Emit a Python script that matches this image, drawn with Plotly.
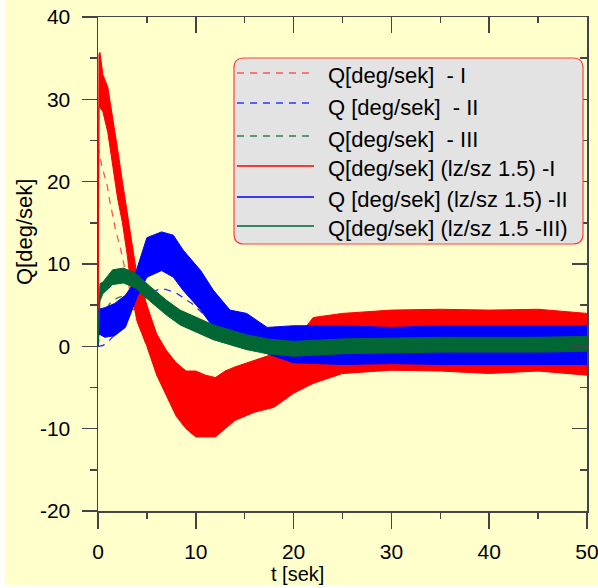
import plotly.graph_objects as go

# ---------------- data ----------------
# dashed (smooth) series
t_dash_I = [0, 0.05, 0.4, 0.9, 1.2, 1.8, 2.3, 3, 4, 5, 6, 7, 8, 9, 10, 11, 12, 14, 16, 18, 20, 25, 30, 40, 50]
q_dash_I = [0, 24, 21.8, 19.8, 17.7, 14.1, 11.9, 8, 3.5, 0, -2.5, -4.5, -6, -6.8, -7, -6.8, -6.2, -4.8, -3.5, -2.4, -1.5, -0.3, 0.2, 0.1, 0]

t_dash_II = [0, 0.5, 1, 2, 3, 3.6, 5, 6.3, 7, 8.1, 9.6, 10.7, 12.3, 14, 16, 18, 20, 25, 50]
q_dash_II = [0, 0.1, 0.5, 1.8, 3.4, 4.4, 6.2, 7.0, 6.9, 6.4, 5.2, 4.0, 2.6, 1.5, 0.7, 0.3, 0.1, 0, 0]

t_dash_III = [0, 0.3, 0.7, 1.2, 2, 3, 4, 5, 6, 7, 8, 10, 12, 14, 16, 18, 20, 25, 50]
q_dash_III = [0, 2.5, 4.2, 5.2, 5.9, 6.3, 6.3, 5.8, 5.0, 4.2, 3.4, 2.2, 1.3, 0.7, 0.3, 0.1, 0, 0, 0]

# noisy series, given as upper / lower envelope of the noise band
t_I = [0, 0.1, 0.2, 0.5, 1, 1.5, 2, 2.5, 3, 3.5, 4, 4.5, 5, 6, 7, 8, 9, 10, 11, 12, 13, 14, 16, 18, 20, 22, 25, 30, 35, 40, 45, 50]
q_I_up = [0, 35.5, 35.7, 33, 31.5, 28, 24, 20, 16, 12.5, 8.5, 7, 5, 1.5, -0.5, -2, -3, -3, -3.5, -3.8, -3, -2.5, -1.7, -0.9, 0.4, 3.5, 4, 4.4, 4.5, 4.4, 4.5, 4]
q_I_lo = [0, 29, 29, 28.5, 26, 22, 18, 15, 11, 6, 3, 1.5, 0, -3.5, -6, -8.5, -10, -11, -11, -11, -10, -9, -8, -7.4, -5.7, -4.5, -3.3, -2.9, -3, -3.3, -3, -3.5]

t_II = [0, 0.1, 0.7, 1.7, 2.8, 3.5, 4, 5, 6.5, 7.7, 8.7, 10.5, 11.8, 13.5, 15.2, 17.3, 20, 25, 30, 35, 40, 45, 50]
q_II_up = [0, 4.5, 4.7, 5.2, 6.2, 7.4, 9.5, 13.2, 13.9, 13.5, 11.7, 9.2, 6.8, 4.4, 4.0, 2.3, 2.5, 2.5, 2.3, 2.5, 2.5, 2.5, 2.5]
q_II_lo = [0, 1.5, 1.1, 1.3, 2.3, 4.4, 6.0, 8.4, 9.2, 8.4, 6.8, 4.4, 2.3, 1.1, -0.1, -0.9, -2.0, -2.2, -2.1, -2.2, -2.2, -2.2, -2.2]

t_III = [0, 0.2, 0.5, 1.5, 2.6, 3.8, 5.3, 7, 8.4, 10.1, 11.8, 13.5, 15.2, 17.3, 20, 25, 30, 35, 40, 45, 50]
q_III_up = [0.5, 7.6, 7.8, 9.3, 9.5, 8.9, 7.3, 5.6, 4.4, 3.5, 2.6, 2.0, 1.4, 0.9, 0.6, 0.9, 1.0, 1.1, 1.1, 1.1, 1.2]
q_III_lo = [0, 5.5, 6.4, 7.5, 7.7, 7.1, 5.5, 3.8, 2.6, 1.7, 0.8, 0.2, -0.4, -0.9, -1.2, -0.9, -0.8, -0.7, -0.7, -0.7, -0.6]

series_labels = [
    "Q[deg/sek]\u00a0\u00a0- I",
    "Q [deg/sek]\u00a0\u00a0- II",
    "Q[deg/sek]\u00a0\u00a0- III",
    "Q[deg/sek] (lz/sz 1.5) -I",
    "Q [deg/sek] (lz/sz 1.5) -II",
    "Q[deg/sek] (lz/sz 1.5 -III)",
]
x_ticks = [0, 10, 20, 30, 40, 50]
y_ticks = [40, 30, 20, 10, 0, -10, -20]

# ---------------- styling ----------------
W, H = 598, 588
L, R, T, B = 98, 587, 17, 511
BG = "#FFFFCC"
FONT = "Liberation Sans, Arial, sans-serif"
AX = "#444444"
RED, BLUE, GREEN = "#FF0000", "#0000FF", "#006633"
RED_D, BLUE_D, GREEN_D = "#FF5555", "#3333FF", "#2E8050"
DASH = "7px,6px"


def px(x):
    return (x - L) / (R - L)


def py(y):
    return (B - y) / (B - T)


fig = go.Figure()

for t, q, c in [(t_dash_I, q_dash_I, RED_D), (t_dash_II, q_dash_II, BLUE_D), (t_dash_III, q_dash_III, GREEN_D)]:
    fig.add_trace(go.Scatter(x=t, y=q, mode="lines", line=dict(color=c, width=1.3, dash=DASH),
                             showlegend=False, hoverinfo="skip"))

for t, up, lo, c in [(t_I, q_I_up, q_I_lo, RED), (t_II, q_II_up, q_II_lo, BLUE), (t_III, q_III_up, q_III_lo, GREEN)]:
    fig.add_trace(go.Scatter(x=t, y=lo, mode="lines", line=dict(color=c, width=1),
                             showlegend=False, hoverinfo="skip"))
    fig.add_trace(go.Scatter(x=t, y=up, mode="lines", line=dict(color=c, width=1),
                             fill="tonexty", fillcolor=c, showlegend=False, hoverinfo="skip"))

# empty trace to host the mirrored top/right axes
fig.add_trace(go.Scatter(x=[None], y=[None], xaxis="x2", yaxis="y2", showlegend=False, hoverinfo="skip"))

tickfont = dict(family=FONT, size=21, color="black")
fig.update_layout(
    width=W, height=H, autosize=False,
    margin=dict(l=L, r=W - R, t=T, b=H - B, pad=0),
    paper_bgcolor="white", plot_bgcolor=BG,
    showlegend=False,
    xaxis=dict(range=[0, 50], tickvals=x_ticks, ticktext=[str(v) for v in x_ticks],
               ticks="outside", ticklen=16, tickwidth=1.5, tickcolor=AX,
               minor=dict(dtick=5, ticks="outside", ticklen=6, tickwidth=1.5, tickcolor=AX),
               showline=True, linecolor=AX, linewidth=1.5, showgrid=False, zeroline=False,
               tickfont=tickfont, ticklabelstandoff=5, automargin=False, ticklabeloverflow="allow"),
    yaxis=dict(range=[-20, 40], tickvals=y_ticks, ticktext=[str(v) for v in y_ticks],
               ticks="outside", ticklen=15, tickwidth=1.5, tickcolor=AX,
               minor=dict(dtick=5, ticks="outside", ticklen=7, tickwidth=1.5, tickcolor=AX),
               showline=True, linecolor=AX, linewidth=1.5, showgrid=False, zeroline=False,
               tickfont=tickfont, ticklabelstandoff=7, automargin=False, ticklabeloverflow="allow"),
    xaxis2=dict(range=[0, 50], overlaying="x", side="top", anchor="y", tickvals=x_ticks,
                ticks="inside", ticklen=16, tickwidth=1.5, tickcolor=AX, showticklabels=False,
                minor=dict(dtick=5, ticks="inside", ticklen=6, tickwidth=1.5, tickcolor=AX),
                showline=True, linecolor=AX, linewidth=1.5, showgrid=False, zeroline=False,
                automargin=False),
    yaxis2=dict(range=[-20, 40], overlaying="y", side="right", anchor="x", tickvals=y_ticks,
                ticks="inside", ticklen=15, tickwidth=1.5, tickcolor=AX, showticklabels=False,
                minor=dict(dtick=5, ticks="inside", ticklen=7, tickwidth=1.5, tickcolor=AX),
                showline=True, linecolor=AX, linewidth=1.5, showgrid=False, zeroline=False,
                automargin=False),
)

shapes = []
# yellow page with thin white strips at left/bottom
shapes.append(dict(type="rect", xref="paper", yref="paper", x0=px(5), x1=px(W + 5), y0=py(585), y1=py(-5),
                   fillcolor=BG, line=dict(width=0), layer="below"))

# legend box with rounded corners
x0, x1, y0, y1, r = 234, 583, 58, 244, 10
path = (f"M {px(x0 + r)},{py(y0)} L {px(x1 - r)},{py(y0)} "
        f"Q {px(x1)},{py(y0)} {px(x1)},{py(y0 + r)} L {px(x1)},{py(y1 - r)} "
        f"Q {px(x1)},{py(y1)} {px(x1 - r)},{py(y1)} L {px(x0 + r)},{py(y1)} "
        f"Q {px(x0)},{py(y1)} {px(x0)},{py(y1 - r)} L {px(x0)},{py(y0 + r)} "
        f"Q {px(x0)},{py(y0)} {px(x0 + r)},{py(y0)} Z")
shapes.append(dict(type="path", xref="paper", yref="paper", path=path,
                   fillcolor="#E3E3E3", line=dict(color="#FF4040", width=1.2), layer="above"))

row_line_y = [73, 103, 136, 166, 197, 226]
row_text_y = [76, 107, 139, 168, 199, 228]
row_colors = [RED_D, BLUE_D, GREEN_D, RED, BLUE, GREEN]
row_dash = [DASH, DASH, DASH, "solid", "solid", "solid"]
for ly, c, d in zip(row_line_y, row_colors, row_dash):
    shapes.append(dict(type="line", xref="paper", yref="paper", x0=px(237), x1=px(314), y0=py(ly), y1=py(ly),
                       line=dict(color=c, width=1.3, dash=d), layer="above"))

annotations = []
for lab, ty in zip(series_labels, row_text_y):
    annotations.append(dict(text=lab, xref="paper", yref="paper", x=px(326), y=py(ty),
                            xanchor="left", yanchor="middle", showarrow=False,
                            font=dict(family=FONT, size=22, color="black")))

annotations.append(dict(text="t [sek]", xref="paper", yref="paper", x=px(297), y=py(574),
                        xanchor="center", yanchor="middle", showarrow=False,
                        font=dict(family=FONT, size=20, color="black")))
annotations.append(dict(text="Q[deg/sek]", xref="paper", yref="paper", x=px(24), y=py(232),
                        xanchor="center", yanchor="middle", showarrow=False, textangle=-90,
                        font=dict(family=FONT, size=22, color="black")))

fig.update_layout(shapes=shapes, annotations=annotations)
fig.write_html("out.html", config={"displayModeBar": False, "staticPlot": True},
               post_script="document.body.style.margin='0px';document.body.style.padding='0px';"
                           "document.body.style.overflow='hidden';")
